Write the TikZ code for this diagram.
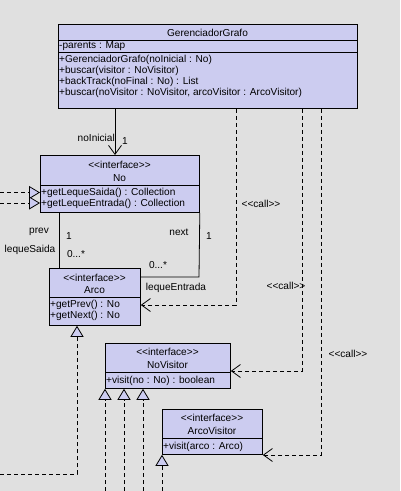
\documentclass[tikz,border=0pt]{standalone}
\usepackage{fontspec}
\setmainfont{Liberation Sans}
\usetikzlibrary{arrows.meta}
\definecolor{bg}{RGB}{224,224,224}
\definecolor{boxfill}{RGB}{204,204,240}
\tikzset{
  umlbox/.style={draw, fill=boxfill, line width=0.8pt, anchor=north west, inner sep=0pt},
  sep/.style={line width=0.8pt},
  txt/.style={inner sep=0pt, font=\fontsize{10.1}{11}\selectfont},
  optxt/.style={txt, anchor=west},
  assoc/.style={line width=0.8pt},
  navarrow/.style={line width=0.8pt, -{Straight Barb[length=9pt,width=13pt,line width=0.8pt]}},
  callarrow/.style={line width=0.8pt, dash pattern=on 4pt off 3pt, -{Straight Barb[length=9pt,width=13pt,line width=0.8pt]}},
  realize/.style={line width=0.8pt, dash pattern=on 4pt off 3pt, -{Triangle[length=11pt,width=13pt,fill=boxfill,line width=0.8pt]}},
}
\begin{document}
\begin{tikzpicture}[x=1pt,y=-1pt]
\fill[bg] (0,0) rectangle (400,491);
\useasboundingbox (0,0) rectangle (400,491);

% GerenciadorGrafo
\node[umlbox, minimum width=299pt, minimum height=84pt] (gg) at (58,24) {};
\draw[sep] (58,40) -- (357,40);
\draw[sep] (58,52) -- (357,52);
\node[txt] (ggn) at (207.5,32.5) {GerenciadorGrafo};
\node[optxt] (gga) at (59,46.5) {-parents : Map};
\node[optxt] (ggo1) at (59,60) {+GerenciadorGrafo(noInicial : No)};
\node[optxt] (ggo2) at (59,71) {+buscar(visitor : NoVisitor)};
\node[optxt] (ggo3) at (59,82) {+backTrack(noFinal : No) : List};
\node[optxt] (ggo4) at (59,93) {+buscar(noVisitor : NoVisitor, arcoVisitor : ArcoVisitor)};

% No
\node[umlbox, minimum width=159pt, minimum height=57pt] (no) at (40,155) {};
\draw[sep] (40,185) -- (199,185);
\node[txt] (nos) at (119.5,165) {<{}<interface>{}>};
\node[txt] (non) at (119.5,178) {No};
\node[optxt] (noo1) at (41,193) {+getLequeSaida() : Collection};
\node[optxt] (noo2) at (41,204) {+getLequeEntrada() : Collection};

% Arco
\node[umlbox, minimum width=91pt, minimum height=57pt] (arco) at (49,268) {};
\draw[sep] (49,297) -- (140,297);
\node[txt] (arcos) at (94.5,277.5) {<{}<interface>{}>};
\node[txt] (arcon) at (94.5,290) {Arco};
\node[optxt] (arcoo1) at (50,305) {+getPrev() : No};
\node[optxt] (arcoo2) at (50,316) {+getNext() : No};

% NoVisitor
\node[umlbox, minimum width=125pt, minimum height=45pt] (nov) at (105,343) {};
\draw[sep] (105,372) -- (230,372);
\node[txt] (novs) at (167.5,352) {<{}<interface>{}>};
\node[txt] (novn) at (167.5,365) {NoVisitor};
\node[optxt] (novo1) at (106,381) {+visit(no : No) : boolean};

% ArcoVisitor
\node[umlbox, minimum width=100pt, minimum height=45pt] (arcov) at (162,409) {};
\draw[sep] (162,438) -- (262,438);
\node[txt] (arcovs) at (212,418) {<{}<interface>{}>};
\node[txt] (arcovn) at (212,431) {ArcoVisitor};
\node[optxt] (arcovo1) at (163,447) {+visit(arco : Arco)};

% free ends
\coordinate (l1) at (0,192.5);
\coordinate (l2) at (0,203);
\coordinate (l3) at (0,474);
\coordinate (b1) at (105,491);
\coordinate (b2) at (124,491);
\coordinate (b3) at (143,491);
\coordinate (b4) at (162,491);

% associations
\draw[navarrow] (115,0 |- gg.south) -- (115,0 |- no.north);
\node[txt, anchor=east] (lni) at (115,138) {noInicial};
\node[txt] (lni1) at (125,141) {1};

\draw[assoc] (59,0 |- no.south) -- (59,0 |- arco.north);
\node[txt] (lprev) at (39,232) {prev};
\node[txt] (lprev1) at (69,236) {1};
\node[txt] (lls) at (30,250) {lequeSaida};
\node[txt] (lls0) at (76,254) {0...*};

\draw[assoc] (no.south east) -- (199,277) -- (arco.east |- 0,277);
\node[txt] (lnext) at (179,232) {next};
\node[txt] (lnext1) at (209,236) {1};
\node[txt] (lle0) at (158,265) {0...*};
\node[txt] (lle) at (176,288) {lequeEntrada};

% calls
\draw[callarrow] (236,0 |- gg.south) -- (236,305) -- (arco.east |- 0,305);
\node[txt] (c1) at (261,204) {<{}<call>{}>};
\draw[callarrow] (302,0 |- gg.south) -- (302,371) -- (nov.east |- 0,371);
\node[txt] (c2) at (286,286) {<{}<call>{}>};
\draw[callarrow] (321,0 |- gg.south) -- (321,455) -- (arcov.east |- 0,455);
\node[txt] (c3) at (348,354) {<{}<call>{}>};

% realizations
\draw[realize] (l1) -- (no.west |- l1);
\draw[realize] (l2) -- (no.west |- l2);
\draw[realize] (l3) -- (77,474) -- (77,0 |- arco.south);
\draw[realize] (b1) -- (b1 |- nov.south);
\draw[realize] (b2) -- (b2 |- nov.south);
\draw[realize] (b3) -- (b3 |- nov.south);
\draw[realize] (b4) -- (b4 |- arcov.south);
\end{tikzpicture}
\end{document}
